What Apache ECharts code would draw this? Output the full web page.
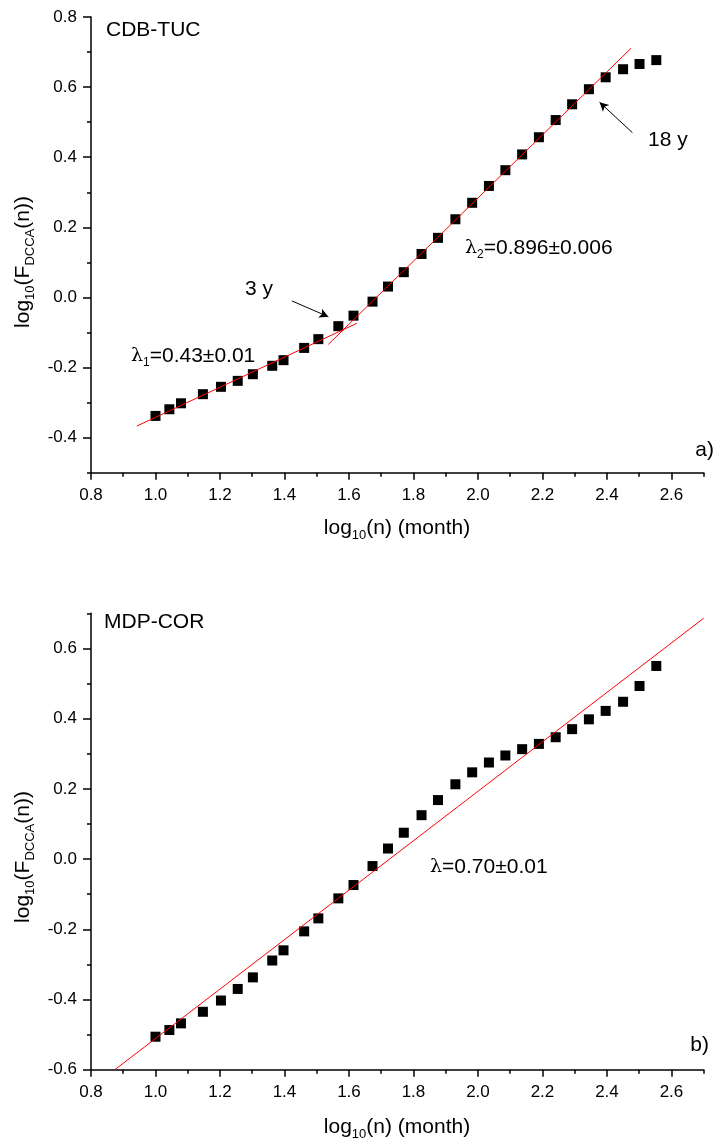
<!DOCTYPE html>
<html><head><meta charset="utf-8">
<script src="https://cdn.jsdelivr.net/npm/echarts@6/dist/echarts.min.js"></script>
<style>html,body{margin:0;padding:0;background:#fff}#c{width:716px;height:1142px}</style>
</head><body><div id="c"></div>
<script>
// ---- data ----
const logN = [1.000,1.043,1.079,1.147,1.203,1.255,1.302,1.362,1.397,1.461,1.505,1.567,1.614,1.673,1.721,
  1.770,1.825,1.876,1.930,1.982,2.034,2.085,2.137,2.189,2.241,2.292,2.344,2.396,2.450,2.501,2.553];
const yTop = [-0.338,-0.319,-0.302,-0.276,-0.255,-0.238,-0.219,-0.195,-0.179,-0.144,-0.119,-0.082,-0.052,-0.012,0.031,
  0.072,0.124,0.170,0.223,0.270,0.318,0.363,0.408,0.457,0.506,0.551,0.594,0.628,0.651,0.666,0.677];
const yBot = [-0.506,-0.487,-0.468,-0.435,-0.403,-0.370,-0.337,-0.289,-0.260,-0.206,-0.169,-0.112,-0.074,-0.020,0.030,
  0.075,0.125,0.168,0.213,0.247,0.275,0.295,0.313,0.328,0.347,0.370,0.398,0.422,0.448,0.493,0.550];
// fit lines (end points)
const fit1X = [0.942, 1.624], fit1Y = [-0.367, -0.074];
const fit2X = [1.536, 2.475], fit2Y = [-0.134, 0.711];
const fit3X = [0.874, 2.700], fit3Y = [-0.600, 0.686];
// arrows [from, to]
const arrow3y = [[1.423, -0.010], [1.536, -0.055]];
const arrow18y = [[2.479, 0.470], [2.377, 0.557]];
// ticks
const xMajor = [0.8,1.0,1.2,1.4,1.6,1.8,2.0,2.2,2.4,2.6];
const xMinor = [0.9,1.1,1.3,1.5,1.7,1.9,2.1,2.3,2.5,2.7];
const yTopMajor = [-0.4,-0.2,0.0,0.2,0.4,0.6,0.8];
const yTopMinor = [-0.5,-0.3,-0.1,0.1,0.3,0.5,0.7];
const yBotMajor = [-0.6,-0.4,-0.2,0.0,0.2,0.4,0.6];
const yBotMinor = [-0.5,-0.3,-0.1,0.1,0.3,0.5,0.7];

const FONT = '"Liberation Sans", Arial, Helvetica, sans-serif';
const BLACK = '#000';
const fmt = v => (Math.abs(v) < 1e-9 ? 0 : v).toFixed(1);

function mainX(g, min, max){
  return {type:'value', gridIndex:g, min, max, position:'bottom',
    axisLine:{show:true, onZero:false, lineStyle:{color:BLACK, width:1.5}},
    axisTick:{show:true, customValues:xMajor, length:7, lineStyle:{color:BLACK, width:1.5}},
    axisLabel:{show:true, customValues:xMajor, formatter:fmt, margin:14, color:BLACK, fontSize:17, fontFamily:FONT},
    splitLine:{show:false}};
}
function minorX(g, min, max){
  return {type:'value', gridIndex:g, min, max, position:'bottom',
    axisLine:{show:false, onZero:false},
    axisTick:{show:true, customValues:xMinor, length:4, lineStyle:{color:BLACK, width:1.5}},
    axisLabel:{show:false}, splitLine:{show:false}};
}
function mainY(g, min, max, major){
  return {type:'value', gridIndex:g, min, max, position:'left',
    axisLine:{show:true, onZero:false, lineStyle:{color:BLACK, width:1.5}},
    axisTick:{show:true, customValues:major, length:8, lineStyle:{color:BLACK, width:1.5}},
    axisLabel:{show:true, customValues:major, formatter:fmt, margin:14, color:BLACK, fontSize:17, fontFamily:FONT},
    splitLine:{show:false}};
}
function minorY(g, min, max, minor){
  return {type:'value', gridIndex:g, min, max, position:'left',
    axisLine:{show:false, onZero:false},
    axisTick:{show:true, customValues:minor, length:4, lineStyle:{color:BLACK, width:1.5}},
    axisLabel:{show:false}, splitLine:{show:false}};
}

const pairs = (xs, ys) => xs.map((x,i) => [x, ys[i]]);

function txt(x, y, text, align){
  return {type:'text', x, y, silent:true,
    style:{text, font:'21px ' + FONT, fill:BLACK, align:align||'left', verticalAlign:'middle'}};
}
function richTxt(x, y, text, rich, align, rotation){
  return {type:'text', x, y, rotation:rotation||0, silent:true,
    style:{text, rich, fill:BLACK, align:align||'left', verticalAlign:'middle', fontFamily:FONT, fontSize:21}};
}
const richAnn = {
  l:{fontSize:19, fontFamily:'"DejaVu Serif", serif', lineHeight:26, verticalAlign:'middle', fill:BLACK},
  s:{fontSize:12, fontFamily:FONT, lineHeight:26, verticalAlign:'bottom', fill:BLACK},
  n:{fontSize:21, fontFamily:FONT, lineHeight:26, verticalAlign:'middle', fill:BLACK}
};
const richTitle = {
  n:{fontSize:21, fontFamily:FONT, lineHeight:27, verticalAlign:'middle', fill:BLACK},
  s:{fontSize:13, fontFamily:FONT, lineHeight:27, verticalAlign:'bottom', fill:BLACK}
};
const markStyle = {color:BLACK, opacity:1, borderWidth:0};

const option = {
  animation:false,
  backgroundColor:'#fff',
  grid:[
    {left:91, top:17, width:612.7, height:455.7, containLabel:false},
    {left:91, top:613.3, width:612.7, height:456.4, containLabel:false}
  ],
  xAxis:[mainX(0,0.8,2.7), minorX(0,0.8,2.7), mainX(1,0.8,2.7), minorX(1,0.8,2.7)],
  yAxis:[mainY(0,-0.5,0.8,yTopMajor), minorY(0,-0.5,0.8,yTopMinor), mainY(1,-0.6,0.7,yBotMajor), minorY(1,-0.6,0.7,yBotMinor)],
  series:[
    {type:'scatter', xAxisIndex:0, yAxisIndex:0, data:pairs(logN,yTop), symbol:'rect', symbolSize:10,
     itemStyle:markStyle, z:2,
     markLine:{silent:true, symbol:['none','arrow'], symbolSize:[7,9], label:{show:false},
       lineStyle:{color:BLACK, width:1, type:'solid', opacity:1},
       data:[[{coord:arrow3y[0]},{coord:arrow3y[1]}],[{coord:arrow18y[0]},{coord:arrow18y[1]}]]}},
    {type:'line', xAxisIndex:0, yAxisIndex:0, data:pairs(fit1X,fit1Y), symbol:'none', lineStyle:{color:'#ff0000', width:1}, z:3},
    {type:'line', xAxisIndex:0, yAxisIndex:0, data:pairs(fit2X,fit2Y), symbol:'none', lineStyle:{color:'#ff0000', width:1}, z:3},
    {type:'scatter', xAxisIndex:2, yAxisIndex:2, data:pairs(logN,yBot), symbol:'rect', symbolSize:10,
     itemStyle:markStyle, z:2},
    {type:'line', xAxisIndex:2, yAxisIndex:2, data:pairs(fit3X,fit3Y), symbol:'none', lineStyle:{color:'#ff0000', width:1}, z:3}
  ],
  graphic:[
    txt(106, 30, 'CDB-TUC'),
    txt(245, 289, '3 y'),
    txt(648, 140, '18 y'),
    txt(714, 450, 'a)', 'right'),
    txt(104, 622, 'MDP-COR'),
    txt(709, 1045, 'b)', 'right'),
    richTxt(131, 356, '{l|λ}{s|1}{n|=0.43±0.01}', richAnn),
    richTxt(465, 248, '{l|λ}{s|2}{n|=0.896±0.006}', richAnn),
    richTxt(430, 867, '{l|λ}{n|=0.70±0.01}', richAnn),
    richTxt(397, 528, '{n|log}{s|10}{n|(n) (month)}', richTitle, 'center'),
    richTxt(397, 1127, '{n|log}{s|10}{n|(n) (month)}', richTitle, 'center'),
    richTxt(23, 262, '{n|log}{s|10}{n|(F}{s|DCCA}{n|(n))}', richTitle, 'center', Math.PI/2),
    richTxt(23, 857, '{n|log}{s|10}{n|(F}{s|DCCA}{n|(n))}', richTitle, 'center', Math.PI/2)
  ]
};
const chart = echarts.init(document.getElementById('c'), null, {renderer:'canvas'});
chart.setOption(option);
</script>
</body></html>
